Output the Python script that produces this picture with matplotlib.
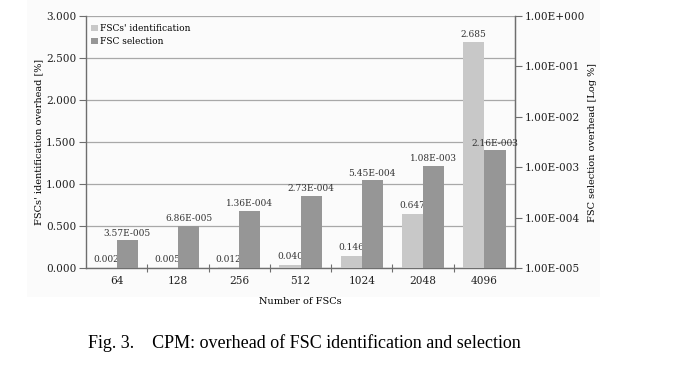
import numpy as np
import matplotlib
matplotlib.use('Agg')
import matplotlib.pyplot as plt
from matplotlib.patches import Rectangle
from matplotlib.ticker import FixedLocator, FuncFormatter, NullLocator

categories = ['64', '128', '256', '512', '1024', '2048', '4096']
ident_vals = [0.002, 0.005, 0.012, 0.040, 0.146, 0.647, 2.685]
select_vals = [3.57e-5, 6.86e-5, 1.36e-4, 2.73e-4, 5.45e-4, 1.08e-3, 2.16e-3]
select_labels = ['3.57E-005', '6.86E-005', '1.36E-004', '2.73E-004',
                 '5.45E-004', '1.08E-003', '2.16E-003']

light = '#c8c8c8'
dark = '#969696'
axis_col = '#6e6e6e'
grid_col = '#a8a8a8'
font = 'DejaVu Serif'

W, H = 679, 376
fig = plt.figure(figsize=(W / 100, H / 100), dpi=100)
fig.patches.append(Rectangle((27 / W, 1 - 297 / H), (600 - 27) / W, 297 / H,
                             transform=fig.transFigure, facecolor='#fbfbfb',
                             edgecolor='none', zorder=-10))

ax = fig.add_axes([86 / W, 1 - 268 / H, (515 - 86) / W, (268 - 16) / H])
ax.patch.set_alpha(0)
x = np.arange(len(categories))
w = 0.345

ax.bar(x - w / 2, ident_vals, width=w, color=light, label="FSCs' identification", zorder=3)
ax.set_ylim(0, 3.0)
ax.set_xlim(-0.5, len(categories) - 0.5)
ax.set_yticks(np.arange(0, 3.01, 0.5))
ax.yaxis.set_major_formatter(FuncFormatter(lambda v, p: '%.3f' % v))
ax.grid(axis='y', color=grid_col, linewidth=0.9, zorder=0)
ax.set_axisbelow(True)

# category labels sit between the boundary ticks
ax.xaxis.set_major_locator(FixedLocator(np.arange(0.5, len(categories) - 0.5, 1)))
ax.xaxis.set_major_formatter(FuncFormatter(lambda v, p: ''))
ax.xaxis.set_minor_locator(FixedLocator(x))
ax.set_xticklabels(categories, minor=True)
ax.tick_params(axis='x', which='minor', length=0, pad=6)
ax.tick_params(axis='x', which='major', length=6, direction='inout', color=axis_col)
ax.tick_params(axis='y', length=5, color=axis_col, pad=2)
for lab in ax.get_xticklabels(minor=True) + ax.get_yticklabels():
    lab.set_fontfamily(font)
    lab.set_fontsize(7.6)
    lab.set_color('#222222')

ax.spines['top'].set_visible(False)
for s in ['left', 'bottom', 'right']:
    ax.spines[s].set_color(axis_col)
    ax.spines[s].set_linewidth(1.0)

for xi, v in zip(x, ident_vals):
    ax.text(xi - w / 2, v + 0.04, '%.3f' % v, ha='center', va='bottom',
            fontsize=6.5, family=font, color='#333333', zorder=5)

ax.set_xlabel('Number of FSCs', fontsize=7, family=font, labelpad=8)
ax.set_ylabel("FSCs' identification overhead [%]", fontsize=7, family=font, labelpad=2)

ax2 = ax.twinx()
ax2.set_yscale('log')
ax2.set_ylim(1e-5, 1)
ax2.bar(x + w / 2, [v - 1e-5 for v in select_vals], bottom=1e-5, width=w,
        color=dark, label='FSC selection', zorder=3)
ax2.yaxis.set_major_locator(FixedLocator([1e-5, 1e-4, 1e-3, 1e-2, 1e-1, 1]))
ax2.yaxis.set_minor_locator(NullLocator())
ax2.yaxis.set_major_formatter(FuncFormatter(
    lambda v, p: '1.00E%s%03d' % ('+' if v >= 1 else '-', abs(int(round(np.log10(v)))))))
ax2.tick_params(axis='y', length=5, color=axis_col, pad=2)
for lab in ax2.get_yticklabels():
    lab.set_fontfamily(font)
    lab.set_fontsize(7.6)
    lab.set_color('#222222')
for s in ['top', 'left', 'bottom']:
    ax2.spines[s].set_visible(False)
ax2.spines['right'].set_color(axis_col)
ax2.set_ylabel('FSC selection overhead [Log %]', fontsize=7, family=font, labelpad=2)

for xi, v, t in zip(x, select_vals, select_labels):
    ax2.text(xi + w / 2, v * 1.12, t, ha='center', va='bottom',
             fontsize=6.5, family=font, color='#333333', zorder=5)

h1, l1 = ax.get_legend_handles_labels()
h2, l2 = ax2.get_legend_handles_labels()
ax2.legend(h1 + h2, l1 + l2, loc='upper left', bbox_to_anchor=(0.0, 0.99),
           frameon=False, prop={'family': font, 'size': 6.5},
           handlelength=0.7, handleheight=0.7, handletextpad=0.3,
           labelspacing=0.5, borderaxespad=0.2)

fig.text(88 / W, 1 - 343 / H, 'Fig. 3.    CPM: overhead of FSC identification and selection',
         ha='left', va='center', fontsize=13, family='Liberation Serif')

fig.savefig('out.png', dpi=100)
